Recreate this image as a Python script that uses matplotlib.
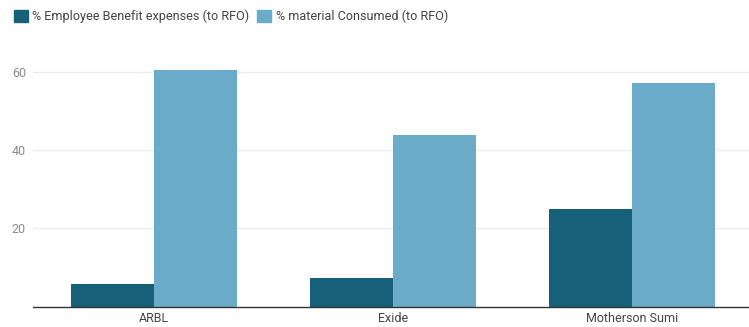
import numpy as np
import matplotlib
matplotlib.use("Agg")
import matplotlib.pyplot as plt
from matplotlib.patches import Patch

plt.rcParams["font.family"] = ["Roboto", "DejaVu Sans"]

# Data
companies = ["ARBL", "Exide", "Motherson Sumi"]
employee_pct = [5.9, 7.4, 24.9]
material_pct = [60.5, 43.8, 57.0]
series_names = ["% Employee Benefit expenses (to RFO)",
                "% material Consumed (to RFO)"]
y_ticks = [20, 40, 60]

DARK = "#176079"
LIGHT = "#6aabc9"

fig = plt.figure(figsize=(7.49, 3.27), dpi=100)
ax = fig.add_axes([0.044, 0.062, 0.956, 0.791])

x = np.arange(len(companies))
w = 0.348
ax.bar(x - w / 2, employee_pct, width=w, color=DARK, zorder=3)
ax.bar(x + w / 2, material_pct, width=w, color=LIGHT, zorder=3)

ax.set_xlim(-0.508, 2.49)
ax.set_ylim(0, 66)
ax.set_yticks(y_ticks)
ax.set_xticks(x)
ax.set_xticklabels(companies)
ax.tick_params(axis="both", length=0, labelsize=9)
ax.tick_params(axis="y", colors="#8a8a8a", pad=5)
ax.tick_params(axis="x", colors="#444444", pad=4)

ax.grid(axis="y", color="#ebebeb", linewidth=1, zorder=0)
for side in ("top", "right", "left"):
    ax.spines[side].set_visible(False)
ax.spines["bottom"].set_color("#333333")
ax.spines["bottom"].set_linewidth(1)
ax.spines["bottom"].set_zorder(4)

handles = [Patch(color=DARK), Patch(color=LIGHT)]
fig.legend(handles, series_names, loc="upper left",
           bbox_to_anchor=(0.003, 1.005), ncol=2, frameon=False,
           fontsize=9.1, labelcolor="#444444",
           handlelength=1.1, handleheight=1.1, handletextpad=0.35,
           columnspacing=0.65)

fig.savefig("out.png", dpi=100, facecolor="white")
